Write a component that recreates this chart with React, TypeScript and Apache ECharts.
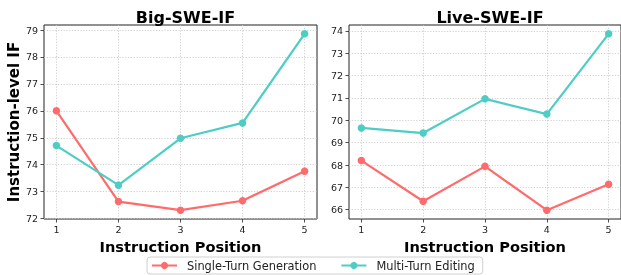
import React, { useEffect, useRef } from 'react';
import * as echarts from 'echarts';

const positions = [1, 2, 3, 4, 5];
const bigSingle = [76.0, 72.63, 72.31, 72.66, 73.76];
const bigMulti = [74.71, 73.24, 74.98, 75.55, 78.86];
const liveSingle = [68.2, 66.38, 67.94, 65.98, 67.14];
const liveMulti = [69.66, 69.43, 70.96, 70.28, 73.87];
const bigTicks = [72, 73, 74, 75, 76, 77, 78, 79];
const liveTicks = [66, 67, 68, 69, 70, 71, 72, 73, 74];
const titles = ['Big-SWE-IF', 'Live-SWE-IF'];
const seriesNames = ['Single-Turn Generation', 'Multi-Turn Editing'];
const colors = ['#FF6B6B', '#4ECDC4'];

const FONT = 'DejaVu Sans';

function extent(arrs: number[][]) {
  const all = arrs.flat();
  const lo = Math.min(...all);
  const hi = Math.max(...all);
  const m = (hi - lo) * 0.05;
  return [lo - m, hi + m];
}

export default function App() {
  const ref = useRef<HTMLDivElement>(null);
  useEffect(() => {
    document.body.style.margin = '0';
    const chart = echarts.init(ref.current!, null, { renderer: 'svg' });
    const bigExt = extent([bigSingle, bigMulti]);
    const liveExt = extent([liveSingle, liveMulti]);
    const grids = [
      { left: 44, top: 25, width: 273, height: 194 },
      { left: 349, top: 25, width: 272, height: 194 },
    ];
    const xAxis = [0, 1].map((i) => ({
      type: 'value',
      gridIndex: i,
      min: 0.8,
      max: 5.2,
      axisLine: { show: false },
      axisTick: { show: true, length: 3.5, customValues: positions, lineStyle: { color: '#222', width: 0.8 } },
      axisLabel: { customValues: positions, margin: 5, fontFamily: FONT, fontSize: 9.5, color: '#222' },
      splitLine: { show: true, lineStyle: { color: '#c4c4c4', type: [1.2, 1.6], width: 0.8 } },
      name: 'Instruction Position',
      nameLocation: 'middle',
      nameGap: 16,
      nameTextStyle: { fontFamily: FONT, fontSize: 14.6, fontWeight: 'bold', color: '#000' },
    }));
    const yTicks = [bigTicks, liveTicks];
    const yExt = [bigExt, liveExt];
    const yAxis = [0, 1].map((i) => ({
      type: 'value',
      gridIndex: i,
      min: yExt[i][0],
      max: yExt[i][1],
      axisLine: { show: false },
      axisTick: { show: true, length: 3.5, customValues: yTicks[i], lineStyle: { color: '#222', width: 0.8 } },
      axisLabel: { customValues: yTicks[i], margin: 6, fontFamily: FONT, fontSize: 9.5, color: '#222' },
      splitLine: { show: true, lineStyle: { color: '#c4c4c4', type: [1.2, 1.6], width: 0.8 } },
      name: i === 0 ? 'Instruction-level IF' : '',
      nameLocation: 'middle',
      nameGap: 23,
      nameTextStyle: { fontFamily: FONT, fontSize: 15, fontWeight: 'bold', color: '#000' },
    }));
    const dataSets = [
      [bigSingle, bigMulti],
      [liveSingle, liveMulti],
    ];
    const series: any[] = [];
    [0, 1].forEach((g) => {
      [0, 1].forEach((s) => {
        series.push({
          type: 'line',
          name: seriesNames[s],
          xAxisIndex: g,
          yAxisIndex: g,
          data: positions.map((p, k) => [p, dataSets[g][s][k]]),
          symbol: 'circle',
          symbolSize: 7.5,
          color: colors[s],
          lineStyle: { width: 2.2, color: colors[s] },
          itemStyle: { color: colors[s] },
        });
      });
    });
    chart.setOption({
      animation: false,
      title: titles.map((t, i) => ({
        text: t,
        left: grids[i].left + grids[i].width / 2,
        textAlign: 'center',
        top: 4,
        textStyle: { fontFamily: FONT, fontSize: 16, fontWeight: 'bold', color: '#000' },
      })),
      grid: grids.map((g) => ({ ...g, show: true, borderColor: '#222', borderWidth: 1, backgroundColor: 'transparent' })),
      xAxis,
      yAxis,
      legend: {
        data: seriesNames,
        left: 147,
        top: 257,
        padding: [3, 8, 3, 4],
        itemWidth: 25,
        itemHeight: 9,
        itemGap: 24,
        borderColor: '#d0d0d0',
        borderWidth: 1,
        borderRadius: 3,
        textStyle: { fontFamily: FONT, fontSize: 11.4, color: '#222', padding: [0, 0, 0, 5] },
      },
      series,
    });
    return () => chart.dispose();
  }, []);
  return <div ref={ref} style={{ width: 621, height: 275, position: 'fixed', left: 0, top: 0 }} />;
}
